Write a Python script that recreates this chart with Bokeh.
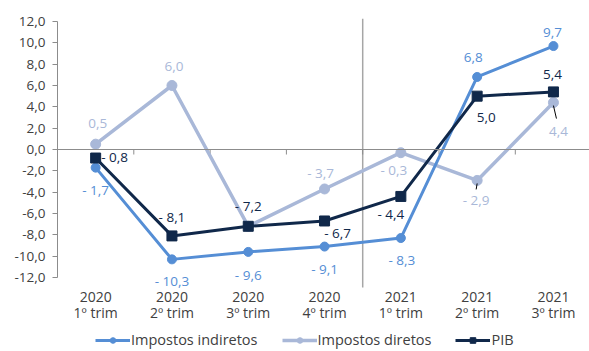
from bokeh.plotting import figure
from bokeh.models import Range1d, FixedTicker, Span, Legend, LegendItem
from bokeh.embed import file_html
from bokeh.resources import INLINE
from bokeh.core.properties import value

categories = ["2020\n1º trim", "2020\n2º trim", "2020\n3º trim", "2020\n4º trim",
              "2021\n1º trim", "2021\n2º trim", "2021\n3º trim"]
indiretos = [-1.7, -10.3, -9.6, -9.1, -8.3, 6.8, 9.7]
diretos = [0.5, 6.0, -7.2, -3.7, -0.3, -2.9, 4.4]
pib = [-0.8, -8.1, -7.2, -6.7, -4.4, 5.0, 5.4]
y_ticks = [-12, -10, -8, -6, -4, -2, 0, 2, 4, 6, 8, 10, 12]

FONT = "Open Sans"
C_IND = "#558ED5"
C_DIR = "#A9B8D8"
C_PIB = "#10284A"
GRID = "#8C8C8C"
TXT = "#404040"
FS = "13.5px"

def fmt(v):
    s = f"{abs(v):.1f}".replace(".", ",")
    return ("- " + s) if v < 0 else s

xs = list(range(len(categories)))
XPX, YPX = 76.3, 10.667  # pixels per data unit
y_lo, y_hi = min(y_ticks), max(y_ticks)
plot_bottom = y_lo - 10 / YPX
plot_top = y_hi + 3 / YPX

p = figure(frame_width=532, frame_height=333, output_backend="svg", toolbar_location=None,
           x_range=Range1d(-0.5, -0.5 + 532 / XPX),
           y_range=Range1d(plot_top - 333 / YPX, plot_top),
           min_border_left=57, min_border_right=0, min_border_top=18, min_border_bottom=0)
p.outline_line_color = None
p.grid.visible = False
p.xaxis.visible = False
p.background_fill_color = "white"

p.yaxis.ticker = FixedTicker(ticks=y_ticks)
p.yaxis.major_label_overrides = {t: fmt(t).replace("- ", "-") for t in y_ticks}
p.yaxis.bounds = (y_lo, y_hi)
p.yaxis.major_tick_in = 0
p.yaxis.major_tick_out = 5
p.yaxis.minor_tick_line_color = None
p.yaxis.axis_line_color = GRID
p.yaxis.major_tick_line_color = GRID
p.yaxis.major_label_standoff = 7
p.yaxis.major_label_text_font = FONT
p.yaxis.major_label_text_font_size = FS
p.yaxis.major_label_text_color = TXT

# zero line, separator, category ticks
p.add_layout(Span(location=0, dimension="width", line_color=GRID, line_width=1))
p.segment(x0=[3.5], y0=[plot_bottom], x1=[3.5], y1=[plot_top],
          line_color="#A6A6A6", line_width=1.5)
bounds = [i + 0.5 for i in xs[:-1]]
p.segment(x0=bounds, y0=[0] * len(bounds), x1=bounds, y1=[-5 / YPX] * len(bounds),
          line_color=GRID, line_width=1)

# category labels
p.text(x=xs, y=[plot_bottom] * len(xs), text=categories, y_offset=-1,
       text_align="center", text_baseline="top", text_line_height=0.87,
       text_font=value(FONT), text_font_size="14px", text_color=TXT)

# series
rdl = p.line(xs, diretos, line_color=C_DIR, line_width=3.5)
rdm = p.scatter(xs, diretos, marker="circle", size=10, color=C_DIR)
ril = p.line(xs, indiretos, line_color=C_IND, line_width=3)
rim = p.scatter(xs, indiretos, marker="circle", size=9, color=C_IND)
rpl = p.line(xs, pib, line_color=C_PIB, line_width=3)
rpm = p.scatter(xs, pib, marker="square", size=10, color=C_PIB)

# leader lines (pixel offsets converted to data units)
lead = [(5, 0, 3, -1, 9), (6, 0, 3, 3, 16)]
p.segment(x0=[xs[i] + a / XPX for i, a, b, c, d in lead],
          y0=[diretos[i] - b / YPX for i, a, b, c, d in lead],
          x1=[xs[i] + c / XPX for i, a, b, c, d in lead],
          y1=[diretos[i] - d / YPX for i, a, b, c, d in lead],
          line_color="black", line_width=1)

# data labels with pixel offsets
ind_off = [(0, 22), (0, 22), (0, 23), (0, 22), (1, 22), (-4, -19), (-1, -14)]
dir_off = [(2, -21), (2, -19), None, (-4, -16), (-7, 17), (-1, 20), (5, 29)]
pib_off = [(19, -1), (0, -19), (0, -20), (13, 12), (-10, 18), (9, 21), (-1, -17)]

for vals, offs, col in [(indiretos, ind_off, C_IND), (diretos, dir_off, C_DIR), (pib, pib_off, C_PIB)]:
    idx = [i for i in xs if offs[i] is not None]
    p.text(x=[xs[i] for i in idx], y=[vals[i] for i in idx],
           text=[fmt(vals[i]) for i in idx],
           x_offset=[offs[i][0] for i in idx], y_offset=[offs[i][1] for i in idx],
           text_align="center", text_baseline="middle",
           text_font=value(FONT), text_font_size=FS, text_color=col)

legend = Legend(items=[LegendItem(label="Impostos indiretos", renderers=[ril, rim]),
                       LegendItem(label="Impostos diretos", renderers=[rdl, rdm]),
                       LegendItem(label="PIB", renderers=[rpl, rpm])],
                orientation="horizontal", glyph_width=35, glyph_height=14,
                label_height=14, label_standoff=1, spacing=24, padding=0, margin=0,
                border_line_color=None, background_fill_alpha=0,
                label_text_font=FONT, label_text_font_size="14.5px",
                label_text_color=TXT, location=(38, 2))
p.add_layout(legend)

open("out.html", "w").write(file_html(p, INLINE))
